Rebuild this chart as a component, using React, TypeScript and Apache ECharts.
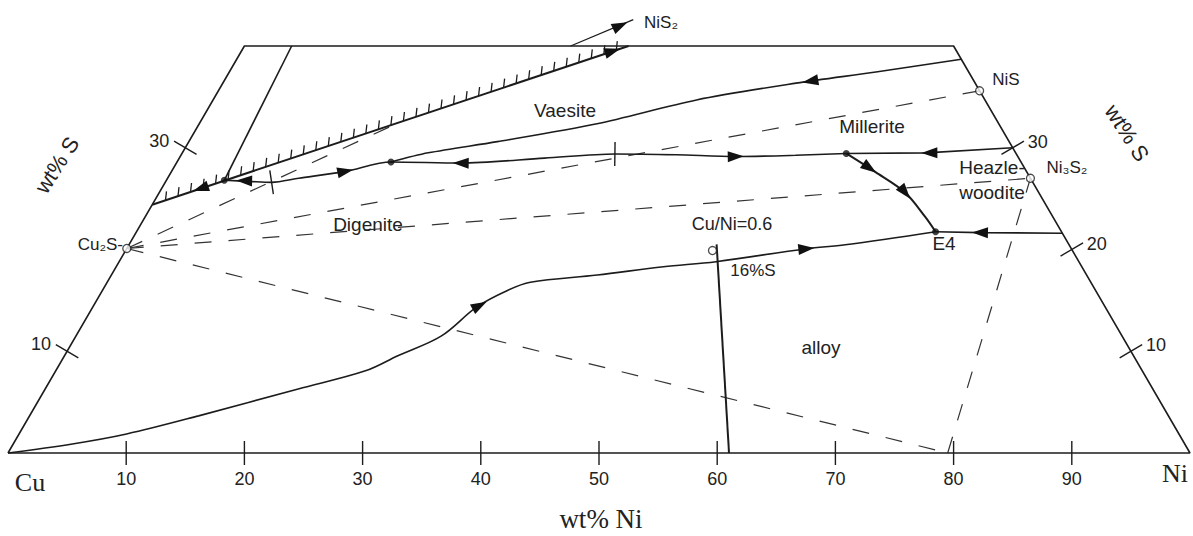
import { useEffect, useRef } from "react";
import * as echarts from "echarts";

type P = [number, number];

// Compositions are [wt% Ni, wt% S]; Cu makes up the balance.
const FRAME: P[] = [[0, 0], [100, 0], [60, 40], [0, 40], [0, 0]];
const INNER_EDGE: P[] = [[4.0, 40], [4.9, 26.8]];
const SULFUR_LIMIT: P[] = [[0, 24.4], [32.5, 40]];
const NIS2_POINTER: P[] = [[27.6, 40], [31.6, 42.6]];

const UPPER_BOUNDARY: P[] = [
  [61.3, 38.7], [54.7, 37.45], [48.5, 36.35], [40.9, 34.7], [33.65, 32.36],
  [26.1, 30.6], [20.8, 29.5], [18.1, 28.6],
];
const MIDDLE_BOUNDARY: P[] = [
  [56.2, 29.44], [52.0, 29.26], [47.0, 29.14], [41.9, 29.31], [36.65, 29.39],
  [30.9, 28.98], [24.05, 28.5], [18.1, 28.6], [14.7, 27.68], [11.1, 27.0],
  [9.0, 26.6], [7.0, 26.7], [4.9, 26.8],
];
const NIS_SIDE_BOUNDARY: P[] = [[70, 30], [62.9, 29.5], [56.2, 29.44]];
const MILLERITE_TO_E4: P[] = [[56.2, 29.44], [59.6, 27.6], [63.1, 25.6], [66.0, 23.2], [67.6, 21.75]];
const NI3S2_SIDE_BOUNDARY: P[] = [[78.4, 21.6], [71.4, 21.66], [67.6, 21.75]];
const ALLOY_BOUNDARY: P[] = [
  [0, 0], [5.0, 0.89], [9.1, 1.87], [14.3, 3.65], [21.4, 6.3], [26.2, 8.08],
  [28.2, 9.56], [30.9, 11.48], [32.5, 14.38], [34.3, 16.0], [35.8, 16.78],
  [41.1, 17.49], [46.3, 18.3], [50.5, 18.8], [57.5, 20.08], [60.6, 20.47],
  [67.6, 21.75],
];
const CU_NI_RATIO_LINE: P[] = [[49.7, 20.5], [61.0, 0]];

const CU2S: P = [0, 20.1];
const NIS: P = [64.4, 35.6];
const NI3S2: P = [73.0, 27.0];
const ALLOY_CORNER: P = [79.5, 0];
const LIMIT_POINT: P = [17.0, 32.6];
const TIE_LINES: P[][] = [
  [CU2S, NIS], [CU2S, NI3S2], [CU2S, ALLOY_CORNER], [ALLOY_CORNER, NI3S2], [CU2S, LIMIT_POINT],
];

const JUNCTIONS: P[] = [[56.2, 29.44], [67.6, 21.75], [18.1, 28.6], [4.9, 26.8]];
const PHASE_POINTS: P[] = [CU2S, NIS, NI3S2];
const SAMPLE_POINT: P = [49.65, 19.9];

// Arrowheads: [position, point the arrow heads toward]
const ARROWS: [P, P][] = [
  [[3.3, 26.0], [0, 24.4]],
  [[6.6, 26.75], [4.9, 26.8]],
  [[14.7, 27.68], [18.1, 28.6]],
  [[24.05, 28.5], [18.1, 28.6]],
  [[47.0, 29.14], [52.0, 29.26]],
  [[49.6, 36.55], [40.9, 34.7]],
  [[63.2, 29.5], [56.2, 29.44]],
  [[58.9, 28.0], [63.1, 25.6]],
  [[63.1, 25.6], [66.0, 23.2]],
  [[71.4, 21.66], [67.6, 21.75]],
  [[57.5, 20.08], [60.6, 20.47]],
  [[32.65, 14.5], [34.3, 16.0]],
  [[30.8, 42.0], [31.6, 42.6]],
  [[31.4, 39.5], [32.5, 40]],
];

// Temperature maxima marked across the boundary curve: [position, direction along curve]
const BOUNDARY_MAXIMA: [P, P][] = [
  [[36.65, 29.39], [41.9, 29.31]],
  [[9.0, 26.6], [11.1, 27.0]],
];

const NI_TICKS = [10, 20, 30, 40, 50, 60, 70, 80, 90];
const LEFT_S_TICKS = [10, 30];
const RIGHT_S_TICKS = [10, 20, 30];

const INK = "#1c1c1c";
const SANS = '"Liberation Sans", Arial, sans-serif';
const SERIF = '"Liberation Serif", "Times New Roman", serif';

// ternary composition -> sheared cartesian position
const xy = ([ni, s]: P): number[] => [ni + s / 2, s];

function lineSeries(pts: P[], extra: any = {}) {
  return {
    type: "line",
    data: pts.map(xy),
    symbol: "none",
    showSymbol: false,
    clip: false,
    silent: true,
    smooth: extra.smooth ?? false,
    lineStyle: { color: INK, width: 1.6, ...(extra.lineStyle || {}) },
    z: extra.z ?? 3,
  };
}

function crossTicks(items: number[][], half: number, label?: (v: number) => string, offset?: [number, number]) {
  return {
    type: "custom",
    coordinateSystem: "cartesian2d",
    clip: false,
    silent: true,
    z: 4,
    data: items,
    renderItem: (_p: any, api: any) => {
      const a = api.coord([api.value(0), api.value(1)]);
      const b = api.coord([api.value(2), api.value(3)]);
      const dx = b[0] - a[0];
      const dy = b[1] - a[1];
      const len = Math.hypot(dx, dy) || 1;
      const nx = -dy / len;
      const ny = dx / len;
      const children: any[] = [
        {
          type: "line",
          shape: { x1: a[0] - nx * half, y1: a[1] - ny * half, x2: a[0] + nx * half, y2: a[1] + ny * half },
          style: { stroke: INK, lineWidth: 1.4 },
        },
      ];
      if (label && offset) {
        children.push({
          type: "text",
          x: a[0] + offset[0],
          y: a[1] + offset[1],
          style: {
            text: label(api.value(4)),
            fill: "#222",
            font: `18px ${SANS}`,
            align: "center",
            verticalAlign: "middle",
            textAlign: "center",
            textVerticalAlign: "middle",
          },
        });
      }
      return { type: "group", children };
    },
  };
}

export default function App() {
  const ref = useRef<HTMLDivElement>(null);

  useEffect(() => {
    if (!ref.current) return;
    const chart = echarts.init(ref.current, undefined, { renderer: "svg" });

    const dashed = TIE_LINES.map((seg) =>
      lineSeries(seg, { lineStyle: { type: [17, 17], width: 1.2, color: "#333" }, z: 2 })
    );

    const hatchSeries = {
      type: "custom",
      coordinateSystem: "cartesian2d",
      clip: false,
      silent: true,
      z: 3,
      data: [[...xy(SULFUR_LIMIT[0]), ...xy(SULFUR_LIMIT[1])]],
      renderItem: (_p: any, api: any) => {
        const a = api.coord([api.value(0), api.value(1)]);
        const b = api.coord([api.value(2), api.value(3)]);
        const dx = b[0] - a[0];
        const dy = b[1] - a[1];
        const len = Math.hypot(dx, dy);
        const children: any[] = [];
        for (let d = 14; d < len - 6; d += 13.2) {
          const x = a[0] + (dx * d) / len;
          const y = a[1] + (dy * d) / len;
          children.push({
            type: "line",
            shape: { x1: x, y1: y, x2: x + 1, y2: y - 9 },
            style: { stroke: INK, lineWidth: 1.3 },
          });
        }
        return { type: "group", children };
      },
    };

    const arrowSeries = {
      type: "custom",
      coordinateSystem: "cartesian2d",
      clip: false,
      silent: true,
      z: 5,
      data: ARROWS.map(([p, q]) => [...xy(p), ...xy(q)]),
      renderItem: (_p: any, api: any) => {
        const a = api.coord([api.value(0), api.value(1)]);
        const b = api.coord([api.value(2), api.value(3)]);
        const dx = b[0] - a[0];
        const dy = b[1] - a[1];
        const len = Math.hypot(dx, dy) || 1;
        const ux = dx / len;
        const uy = dy / len;
        const L = 16;
        const W = 5.5;
        const tip = [a[0] + (ux * L) / 2, a[1] + (uy * L) / 2];
        const bx = a[0] - (ux * L) / 2;
        const by = a[1] - (uy * L) / 2;
        return {
          type: "polygon",
          shape: { points: [tip, [bx - uy * W, by + ux * W], [bx + uy * W, by - ux * W]] },
          style: { fill: "#111" },
        };
      },
    };

    const label = (text: string, x: number, y: number, size = 19, extra: any = {}) => ({
      type: "text",
      x,
      y,
      rotation: extra.rotation ?? 0,
      z: 10,
      style: {
        text,
        fill: "#222",
        font: `${size}px ${extra.family ?? SANS}`,
        align: extra.align ?? "center",
        verticalAlign: "middle",
        textAlign: extra.align ?? "center",
        textVerticalAlign: "middle",
      },
    });

    chart.setOption({
      animation: false,
      backgroundColor: "#ffffff",
      grid: { left: 8, top: 46, width: 1188, height: 407 },
      xAxis: {
        type: "value",
        min: 0,
        max: 100,
        interval: 10,
        axisLine: { show: false },
        axisTick: { show: false },
        splitLine: { show: false },
        axisLabel: {
          formatter: (v: number) => (NI_TICKS.includes(v) ? String(v) : ""),
          fontSize: 18,
          fontFamily: SANS,
          color: "#222",
          margin: 17,
        },
      },
      yAxis: { type: "value", min: 0, max: 40, show: false },
      series: [
        lineSeries(FRAME, { lineStyle: { width: 1.6 } }),
        lineSeries(INNER_EDGE),
        lineSeries(SULFUR_LIMIT, { lineStyle: { width: 2 } }),
        lineSeries(NIS2_POINTER, { lineStyle: { width: 1.3 } }),
        lineSeries(UPPER_BOUNDARY, { smooth: 0.3 }),
        lineSeries(MIDDLE_BOUNDARY, { smooth: 0.3 }),
        lineSeries(NIS_SIDE_BOUNDARY),
        lineSeries(MILLERITE_TO_E4, { smooth: 0.3, lineStyle: { width: 2 } }),
        lineSeries(NI3S2_SIDE_BOUNDARY),
        lineSeries(ALLOY_BOUNDARY, { smooth: 0.35 }),
        lineSeries(CU_NI_RATIO_LINE, { lineStyle: { width: 2 } }),
        ...dashed,
        hatchSeries,
        arrowSeries,
        crossTicks(NI_TICKS.map((v) => [...xy([v, 0]), ...xy([v + 1, 0]), v]), 12),
        crossTicks(
          LEFT_S_TICKS.map((s) => [...xy([0, s]), ...xy([0, s + 5]), s]),
          13,
          (v) => String(v),
          [-26, -7]
        ),
        crossTicks(
          RIGHT_S_TICKS.map((s) => [...xy([100 - s, s]), ...xy([95 - s, s + 5]), s]),
          13,
          (v) => String(v),
          [25, -6]
        ),
        crossTicks(BOUNDARY_MAXIMA.map(([p, q]) => [...xy(p), ...xy(q), 0]), 12),
        {
          type: "scatter",
          data: JUNCTIONS.map(xy),
          symbol: "circle",
          symbolSize: 7,
          itemStyle: { color: "#111" },
          silent: true,
          clip: false,
          z: 6,
        },
        {
          type: "scatter",
          data: [...PHASE_POINTS, SAMPLE_POINT].map(xy),
          symbol: "circle",
          symbolSize: 8,
          itemStyle: { color: "#fff", borderColor: INK, borderWidth: 1.3 },
          silent: true,
          clip: false,
          z: 7,
        },
      ],
      graphic: [
        label("NiS\u2082", 661, 22, 17),
        label("NiS", 1006, 79, 17),
        label("Vaesite", 565, 110),
        label("Millerite", 872, 126),
        label("Digenite", 368, 224),
        label("Cu/Ni=0.6", 732, 224, 18),
        label("Heazle-", 992, 167),
        label("woodite", 992, 192),
        label("Ni\u2083S\u2082", 1067, 167, 17),
        label("E4", 944, 243),
        label("16%S", 753, 270, 17),
        label("alloy", 821, 347),
        label("Cu\u2082S-", 123, 244, 17, { align: "right" }),
        label("wt% S", 57, 165, 22, { rotation: 1.0 }),
        label("wt% S", 1127, 133, 22, { rotation: -1.0 }),
        label("Cu", 30, 482, 26, { family: SERIF }),
        label("Ni", 1175, 473, 26, { family: SERIF }),
        label("wt% Ni", 601, 519, 27, { family: SERIF }),
      ],
    });

    return () => chart.dispose();
  }, []);

  return (
    <div
      ref={ref}
      style={{ position: "fixed", left: 0, top: 0, width: 1193, height: 536, background: "#fff" }}
    />
  );
}
